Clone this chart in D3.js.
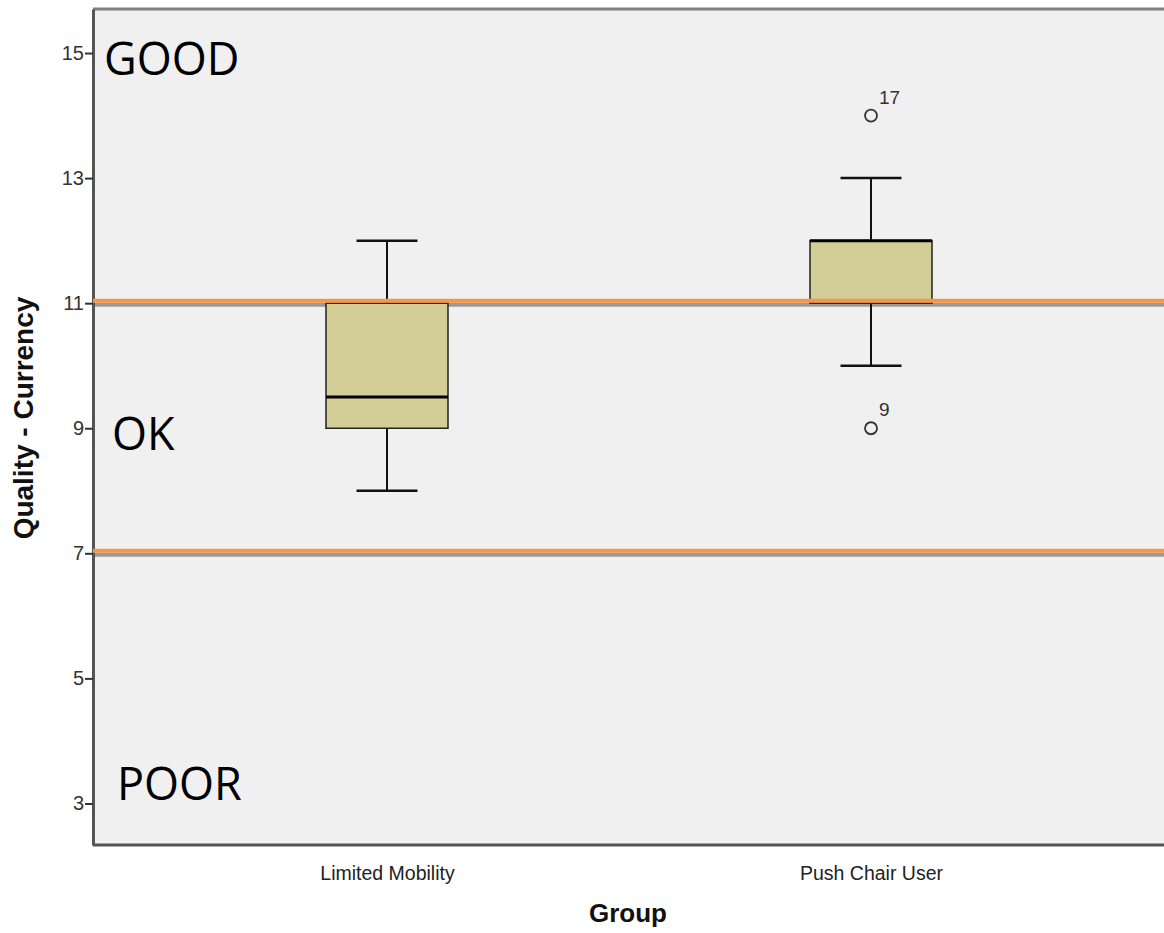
<!DOCTYPE html>
<html>
<head>
<meta charset="utf-8">
<script src="https://cdn.jsdelivr.net/npm/d3@7"></script>
<style>
  html, body { margin: 0; padding: 0; background: #ffffff; }
  svg { display: block; }
</style>
</head>
<body>
<svg id="chart" width="1164" height="933"></svg>
<script>
// Groups and their box-plot summaries
const groups = ["Limited Mobility", "Push Chair User"];
const whiskerLow = [8, 10];
const quartile1 = [9, 11];
const medians = [9.5, 12];
const quartile3 = [11, 12];
const whiskerHigh = [12, 13];

// Outlying cases: group index, value, case number
const outlierGroup = [1, 1];
const outlierValue = [14, 9];
const outlierCase = ["17", "9"];

// Y axis ticks and quality band thresholds
const yTicks = [3, 5, 7, 9, 11, 13, 15];
const thresholds = [11, 7];
const bandLabels = ["GOOD", "OK", "POOR"];
const bandLabelValues = [14.65, 8.65, 3.06];

(function drawChart() {
  const svg = d3.select("#chart");
  const plotL = 93, plotR = 1165, plotT = 9, plotB = 845;
  const sans = "Liberation Sans, Arial, sans-serif";

  const y = d3.scaleLinear().domain([2.336, 15.704]).range([plotB, plotT]);
  const x = d3.scalePoint().domain(groups).range([plotL, plotR]).padding(0.6074);

  // Plot background
  svg.append("rect")
    .attr("x", plotL).attr("y", plotT)
    .attr("width", plotR - plotL).attr("height", plotB - plotT)
    .attr("fill", "#f0f0f0");

  // Threshold reference lines (grey line under an orange line)
  thresholds.forEach(t => {
    svg.append("line")
      .attr("x1", plotL).attr("x2", plotR)
      .attr("y1", y(t) + 1.5).attr("y2", y(t) + 1.5)
      .attr("stroke", "#9a9a9a").attr("stroke-width", 4);
  });

  // Frame
  svg.append("line").attr("x1", plotL).attr("x2", plotR).attr("y1", plotT).attr("y2", plotT)
    .attr("stroke", "#808080").attr("stroke-width", 3);
  svg.append("line").attr("x1", plotL).attr("x2", plotR).attr("y1", plotB).attr("y2", plotB)
    .attr("stroke", "#555555").attr("stroke-width", 3);

  // Y axis
  const yAxis = svg.append("g")
    .attr("transform", `translate(${plotL},0)`)
    .call(d3.axisLeft(y).tickValues(yTicks).tickSize(8).tickPadding(1).tickSizeOuter(0));
  yAxis.select(".domain").attr("stroke", "#555555").attr("stroke-width", 3);
  yAxis.selectAll(".tick line").attr("stroke", "#333333").attr("stroke-width", 2);
  yAxis.selectAll(".tick text")
    .attr("font-family", sans)
    .attr("font-size", 20).attr("fill", "#333333");

  // X axis labels
  const xAxis = svg.append("g")
    .attr("transform", `translate(0,${plotB})`)
    .call(d3.axisBottom(x).tickSize(0).tickPadding(21.5));
  xAxis.select(".domain").remove();
  xAxis.selectAll(".tick text")
    .attr("font-family", sans)
    .attr("font-size", 19.5).attr("fill", "#222222");

  // Axis titles
  svg.append("text")
    .attr("x", 628).attr("y", 922)
    .attr("text-anchor", "middle")
    .attr("font-family", sans)
    .attr("font-weight", "bold").attr("font-size", 26).attr("fill", "#111111")
    .text("Group");

  svg.append("text")
    .attr("transform", `translate(33,418) rotate(-90)`)
    .attr("text-anchor", "middle")
    .attr("font-family", sans)
    .attr("font-weight", "bold").attr("font-size", 28).attr("fill", "#111111")
    .text("Quality - Currency");

  // Boxes
  const boxW = 122, capW = 61;
  groups.forEach((g, i) => {
    const cx = x(g);
    const gBox = svg.append("g");
    gBox.append("line").attr("x1", cx).attr("x2", cx)
      .attr("y1", y(whiskerHigh[i])).attr("y2", y(quartile3[i]))
      .attr("stroke", "#111").attr("stroke-width", 2);
    gBox.append("line").attr("x1", cx).attr("x2", cx)
      .attr("y1", y(quartile1[i])).attr("y2", y(whiskerLow[i]))
      .attr("stroke", "#111").attr("stroke-width", 2);
    [whiskerHigh[i], whiskerLow[i]].forEach(v => {
      gBox.append("line").attr("x1", cx - capW / 2).attr("x2", cx + capW / 2)
        .attr("y1", y(v)).attr("y2", y(v))
        .attr("stroke", "#111").attr("stroke-width", 2.5);
    });
    gBox.append("rect")
      .attr("x", cx - boxW / 2).attr("width", boxW)
      .attr("y", y(quartile3[i])).attr("height", y(quartile1[i]) - y(quartile3[i]))
      .attr("fill", "#d3ce97").attr("stroke", "#222").attr("stroke-width", 1.5);
    gBox.append("line").attr("x1", cx - boxW / 2).attr("x2", cx + boxW / 2)
      .attr("y1", y(medians[i])).attr("y2", y(medians[i]))
      .attr("stroke", "#000").attr("stroke-width", 3);
  });

  // Orange threshold lines over the boxes
  thresholds.forEach(t => {
    svg.append("line")
      .attr("x1", plotL).attr("x2", plotR)
      .attr("y1", y(t) - 2.5).attr("y2", y(t) - 2.5)
      .attr("stroke", "#f79646").attr("stroke-width", 4);
  });

  // Outliers
  outlierValue.forEach((v, k) => {
    const cx = x(groups[outlierGroup[k]]);
    svg.append("circle")
      .attr("cx", cx).attr("cy", y(v)).attr("r", 6)
      .attr("fill", "none").attr("stroke", "#333").attr("stroke-width", 1.8);
    svg.append("text")
      .attr("x", cx + 8).attr("y", y(v) - 12)
      .attr("font-family", sans)
      .attr("font-size", 19).attr("fill", "#333")
      .text(outlierCase[k]);
  });

  // Quality band labels
  const bandX = [104, 112, 117];
  bandLabels.forEach((t, k) => {
    svg.append("text")
      .attr("x", bandX[k]).attr("y", y(bandLabelValues[k]))
      .attr("font-family", "Open Sans, sans-serif")
      .attr("font-size", 45).attr("fill", "#000")
      .text(t);
  });
})();
</script>
</body>
</html>
